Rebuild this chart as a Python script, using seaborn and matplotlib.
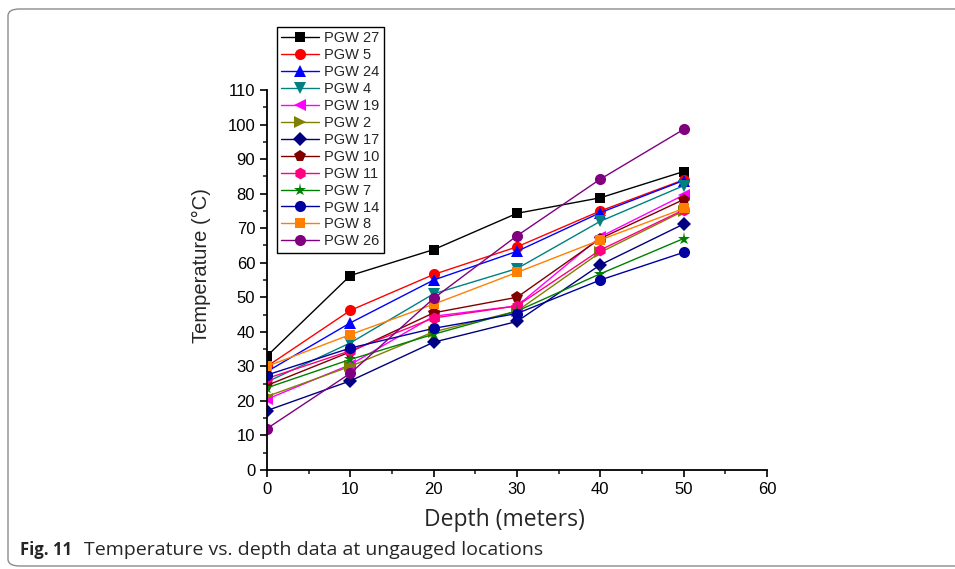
import matplotlib
matplotlib.use("Agg")
import matplotlib.pyplot as plt
import seaborn as sns
from matplotlib.patches import FancyBboxPatch
from matplotlib.ticker import MultipleLocator

# ---- data ----
depth = [0, 10, 20, 30, 40, 50]
names = ["PGW 27", "PGW 5", "PGW 24", "PGW 4", "PGW 19", "PGW 2", "PGW 17",
         "PGW 10", "PGW 11", "PGW 7", "PGW 14", "PGW 8", "PGW 26"]
pgw27 = [33.0, 56.3, 63.8, 74.3, 78.8, 86.4]
pgw5 = [30.0, 46.2, 56.6, 64.6, 75.0, 84.0]
pgw24 = [28.5, 42.6, 55.0, 63.3, 74.5, 83.8]
pgw4 = [25.5, 36.8, 51.0, 58.3, 72.0, 82.3]
pgw19 = [20.5, 30.5, 44.5, 47.5, 67.5, 79.6]
pgw2 = [21.3, 30.0, 40.0, 46.0, 63.0, 75.0]
pgw17 = [17.2, 25.8, 37.0, 43.0, 59.4, 71.2]
pgw10 = [24.5, 34.2, 45.5, 50.0, 67.0, 78.3]
pgw11 = [26.5, 34.5, 44.0, 47.5, 63.7, 75.3]
pgw7 = [23.8, 32.0, 39.3, 46.0, 56.8, 67.0]
pgw14 = [27.5, 35.3, 41.0, 45.3, 55.0, 63.0]
pgw8 = [30.0, 39.2, 48.0, 57.2, 66.6, 75.7]
pgw26 = [12.0, 28.0, 49.7, 67.8, 84.2, 98.6]
values = [pgw27, pgw5, pgw24, pgw4, pgw19, pgw2, pgw17,
          pgw10, pgw11, pgw7, pgw14, pgw8, pgw26]
x_ticks = [0, 10, 20, 30, 40, 50, 60]
y_ticks = [0, 10, 20, 30, 40, 50, 60, 70, 80, 90, 100, 110]

# ---- styles ----
colors = ["#000000", "#FF0000", "#0000FF", "#008080", "#FF00FF", "#808000",
          "#000080", "#800000", "#FF0080", "#008000", "#0000A0", "#FF8000",
          "#800080"]
markers = ["s", "o", "^", "v", "<", ">", "D", "p", "h", "*", "o", "s", "o"]
msizes = [7.5, 8, 8.5, 8.5, 8.5, 8.5, 7, 8.5, 8.5, 9.5, 8, 7.5, 8]

sns.set_style("ticks")
plt.rcParams['font.family'] = ['Liberation Sans', 'DejaVu Sans']

fig = plt.figure(figsize=(9.55, 5.69), dpi=100)
ax = fig.add_axes([267 / 955, 1 - 470 / 569, 500 / 955, 380 / 569])

for name, vals, c, m, ms in zip(names, values, colors, markers, msizes):
    sns.lineplot(x=depth, y=vals, color=c, marker=m, markersize=ms,
                 markeredgewidth=0, linewidth=1.0, label=name, ax=ax)

ax.set_xlim(0, 60)
ax.set_ylim(0, 110)
ax.set_xticks(x_ticks)
ax.set_yticks(y_ticks)
ax.xaxis.set_minor_locator(MultipleLocator(5))
ax.yaxis.set_minor_locator(MultipleLocator(5))
ax.tick_params(axis='both', which='major', direction='out', length=5,
               width=1.2, labelsize=12, colors='black')
ax.tick_params(axis='both', which='minor', direction='out', length=3,
               width=1.2)
for s in ['left', 'bottom']:
    ax.spines[s].set_linewidth(1.3)
    ax.spines[s].set_color('black')
sns.despine(ax=ax)

ax.set_ylabel("Temperature (°C)", fontsize=14.5)
ax.yaxis.set_label_coords(-0.113, 0.537)
ax.set_xlabel("Depth (meters)", fontsize=16.5,
              family=['Open Sans', 'DejaVu Sans'])
ax.xaxis.set_label_coords(0.474, -0.10)

leg = ax.legend(loc='upper left', bbox_to_anchor=(277 / 955, 1 - 27 / 569),
                bbox_transform=fig.transFigure, frameon=True, fancybox=False,
                fontsize=10.5, labelspacing=0.2, handlelength=2.6,
                handletextpad=0.35, borderpad=0.3, borderaxespad=0,
                markerscale=1.0)
leg.get_frame().set_edgecolor('black')
leg.get_frame().set_linewidth(1.0)
leg.get_frame().set_alpha(1)

# figure border and caption
border = FancyBboxPatch((8 / 955, 3 / 569), 960 / 955, 557 / 569,
                        boxstyle="round,pad=0,rounding_size=0.012",
                        transform=fig.transFigure, facecolor='none',
                        edgecolor='#8c8c8c', linewidth=1.0)
fig.patches.append(border)
fig.text(20 / 955, 1 - 550 / 569, "Fig. 11", fontsize=12, fontweight='bold',
         family=['Open Sans', 'DejaVu Sans'], va='center', ha='left')
fig.text(84 / 955, 1 - 550 / 569,
         "Temperature vs. depth data at ungauged locations", fontsize=14,
         family=['Open Sans', 'DejaVu Sans'], va='center', ha='left')

fig.savefig("out.png", dpi=100)
